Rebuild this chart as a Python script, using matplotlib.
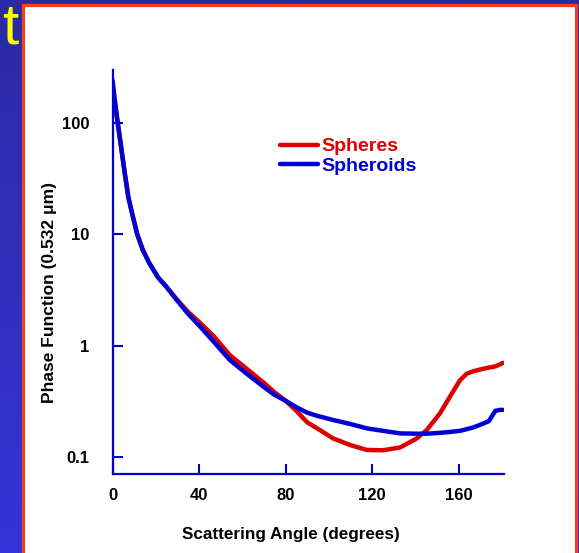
import numpy as np
import matplotlib
matplotlib.use("Agg")
import matplotlib.pyplot as plt
from matplotlib.patches import Rectangle

plt.rcParams["font.family"] = ["Liberation Sans", "DejaVu Sans"]
plt.rcParams["font.weight"] = "bold"

# scattering angle (deg) and phase function values at 0.532 um
angle = [0, 1, 2.4, 4, 5.5, 7.3, 9, 11.4, 14, 17, 21, 25, 29.7, 35, 40.5, 47,
         54.3, 62, 69.6, 75, 80, 85, 90, 94.4, 102, 110, 117.5, 125, 133,
         140.7, 145.3, 151.4, 156, 160.7, 163.8, 167, 171.5, 174, 177, 179.2,
         180.5]
spheres = [205, 150, 100, 60, 37, 21.5, 15.5, 10, 7.2, 5.5, 4.1, 3.35, 2.6,
           2.0, 1.6, 1.2, 0.82, 0.62, 0.47, 0.38, 0.32, 0.26, 0.205, 0.182,
           0.147, 0.128, 0.116, 0.115, 0.122, 0.147, 0.175, 0.247, 0.348,
           0.49, 0.56, 0.59, 0.62, 0.635, 0.65, 0.68, 0.70]
spheroids = [240, 165, 100, 60, 37, 21.5, 15.5, 10, 7.2, 5.5, 4.1, 3.35, 2.56,
             1.92, 1.48, 1.07, 0.74, 0.56, 0.43, 0.36, 0.32, 0.28, 0.25, 0.235,
             0.215, 0.198, 0.181, 0.172, 0.163, 0.162, 0.162, 0.165, 0.168,
             0.172, 0.178, 0.185, 0.20, 0.21, 0.26, 0.265, 0.265]

x_ticks = [0, 40, 80, 120, 160]
y_ticks = [0.1, 1, 10, 100]
y_ticklabels = ["0.1", "1", "10", "100"]

RED = "#dc0000"
BLUE = "#0000d6"

fig = plt.figure(figsize=(5.79, 5.53), dpi=100)

# slide background: blue gradient with a white framed panel on top
bg = fig.add_axes([0, 0, 1, 1], zorder=-3)
grad = np.linspace(0, 1, 256).reshape(-1, 1)
cmap = matplotlib.colors.LinearSegmentedColormap.from_list(
    "slide", ["#2a2aa4", "#3434d8"])
bg.imshow(grad, aspect="auto", cmap=cmap, extent=[0, 1, 0, 1])
bg.axis("off")

panel = Rectangle((22.5 / 579, -0.02), (576 - 22.5) / 579, 1.02 - 4.5 / 553,
                  transform=fig.transFigure, facecolor="white",
                  edgecolor="#f5401e", linewidth=2.3, zorder=-2)
fig.patches.append(panel)

fig.text(2 / 579, 1 - 1 / 553, "t", color="#ffff00", fontsize=42,
         fontweight="normal", ha="left", va="top")

ax = fig.add_axes([112.5 / 579, 79 / 553, (504 - 112.5) / 579, 404 / 553])
ax.set_facecolor("none")

ax.plot(angle, spheres, color=RED, lw=3.2, solid_capstyle="round",
        label="Spheres")
ax.plot(angle, spheroids, color=BLUE, lw=3.2, solid_capstyle="round",
        label="Spheroids")

ax.set_yscale("log")
ax.set_xlim(0, 181)
ax.set_ylim(0.0705, 296)
ax.set_xticks(x_ticks)
ax.set_yticks(y_ticks)
ax.set_yticklabels(y_ticklabels)
ax.yaxis.set_minor_locator(matplotlib.ticker.NullLocator())

for side in ("top", "right"):
    ax.spines[side].set_visible(False)
for side in ("left", "bottom"):
    ax.spines[side].set_color(BLUE)
    ax.spines[side].set_linewidth(1.6)

ax.tick_params(axis="both", direction="in", length=7.5, width=1.5,
               color=BLUE, labelsize=12)
ax.tick_params(axis="y", pad=16.5)
ax.tick_params(axis="x", pad=10)

ax.set_xlabel("Scattering Angle (degrees)", fontsize=12.3, fontweight="bold")
ax.xaxis.set_label_coords(0.455, -0.13)
ax.set_ylabel("Phase Function (0.532 μm)", fontsize=12.5, fontweight="bold")
ax.yaxis.set_label_coords(-0.142, 0.45)

leg = ax.legend(loc="upper left", bbox_to_anchor=(0.428, 0.832), frameon=False,
                fontsize=14, handlelength=1.95, handletextpad=0.2,
                labelspacing=0.08, borderpad=0, borderaxespad=0)
for txt, col in zip(leg.get_texts(), [RED, BLUE]):
    txt.set_color(col)
    txt.set_fontweight("bold")
for h in leg.get_lines():
    h.set_linewidth(3.2)

fig.savefig("out.png", dpi=100)
